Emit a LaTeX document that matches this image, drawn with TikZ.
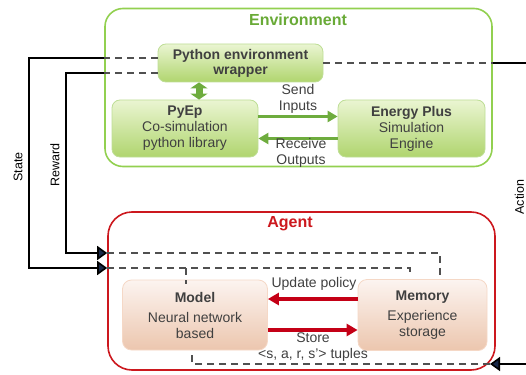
\documentclass[tikz,border=0pt]{standalone}
\usepackage{fontspec}
\setmainfont{Liberation Sans}
\usetikzlibrary{arrows.meta, positioning, calc}
\definecolor{envgreen}{RGB}{146, 208, 80}
\definecolor{envtitle}{RGB}{105, 170, 55}
\definecolor{greentop}{RGB}{234, 245, 210}
\definecolor{greenbot}{RGB}{176, 213, 110}
\definecolor{greenline}{RGB}{190, 222, 150}
\definecolor{greenarrow}{RGB}{110, 172, 62}
\definecolor{agentred}{RGB}{204, 24, 30}
\definecolor{peachtop}{RGB}{252, 244, 240}
\definecolor{peachbot}{RGB}{236, 198, 174}
\definecolor{peachline}{RGB}{245, 216, 198}
\definecolor{redarrow}{RGB}{196, 0, 22}
\definecolor{tipnavy}{RGB}{24, 40, 72}
\definecolor{dashgray}{RGB}{80, 80, 80}
\definecolor{txtgray}{RGB}{64, 64, 64}

\begin{document}
\begin{tikzpicture}[
    x=1pt, y=-1pt,
    font=\fontsize{14}{16}\selectfont,
    frame/.style={line width=1.6pt, minimum width=387pt, minimum height=158pt},
    titletext/.style={font=\fontsize{16}{18}\selectfont\bfseries},
    greenbox/.style={draw=greenline, line width=0.8pt, rounded corners=8pt,
        top color=greentop, bottom color=greenbot, align=center, text=txtgray},
    peachbox/.style={draw=peachline, line width=0.8pt, rounded corners=9pt,
        top color=peachtop, bottom color=peachbot, align=center, text=txtgray},
    lbl/.style={text=txtgray, align=center},
    sidelbl/.style={font=\fontsize{12.5}{14}\selectfont, text=black, rotate=90, inner sep=0pt},
    dashline/.style={draw=dashgray, line width=1.3pt, dash pattern=on 7pt off 5pt},
    wire/.style={draw=black, line width=1.6pt},
    navytip/.style={-{Triangle[length=10pt, width=14pt, fill=tipnavy]}},
    garrow/.style={draw=greenarrow, line width=3pt, -{Triangle[length=10pt, width=11pt]}},
    rarrow/.style={draw=redarrow, line width=3.2pt, -{Triangle[length=11pt, width=12pt]}}
]
    \useasboundingbox (0,0) rectangle (526,374);

    % ==========================================
    % FRAMES
    % ==========================================
    \node[frame, draw=envgreen, rounded corners=18pt] (env) at (298.5,87.5) {};
    \node[titletext, text=envtitle] (envname) at (298,20) {Environment};

    \node[frame, draw=agentred, rounded corners=24pt] (agent) at (301.5,291) {};
    \node[titletext, text=agentred] (agentname) at (290,224) {Agent};

    % ==========================================
    % ENVIRONMENT BOXES
    % ==========================================
    \node[greenbox, minimum width=165pt, minimum height=38pt, font=\fontsize{14}{15}\selectfont\bfseries]
        (wrapper) at (240.5,63) {Python environment\\wrapper};
    \node[greenbox, minimum width=146pt, minimum height=57pt]
        (pyep) at (185,128.5) {\textbf{PyEp}\\Co-simulation\\python library};
    \node[greenbox, minimum width=147pt, minimum height=57pt]
        (eplus) at (411.5,128.5) {\textbf{Energy Plus}\\Simulation\\Engine};

    % ==========================================
    % AGENT BOXES
    % ==========================================
    \node[peachbox, minimum width=145pt, minimum height=70pt]
        (model) at (195,315) {\textbf{Model}\\[4pt]Neural network\\based};
    \node[peachbox, minimum width=129pt, minimum height=71pt]
        (memory) at (422.5,315) {\textbf{Memory}\\[4pt]Experience\\storage};

    % ==========================================
    % COORDINATES
    % ==========================================
    % State (left, outer)
    \coordinate (st_out) at ([yshift=5pt]wrapper.west);
    \coordinate (st_env) at (env.west |- st_out);
    \coordinate (st_top) at (29,58);
    \coordinate (st_bot) at (29,268);
    \coordinate (st_in)  at (agent.west |- st_bot);
    \coordinate (st_end) at (410,268);
    \coordinate (st_tick) at ([xshift=-9pt, yshift=-4pt]model.north);

    % Reward (left, inner)
    \coordinate (rw_out) at ([yshift=-10pt]wrapper.west);
    \coordinate (rw_env) at (env.west |- rw_out);
    \coordinate (rw_top) at (66,73);
    \coordinate (rw_bot) at (66,253);
    \coordinate (rw_in)  at (agent.west |- rw_bot);
    \coordinate (mem_top) at ([xshift=17.5pt]memory.north);

    % Action (right)
    \coordinate (act_env) at (env.east |- wrapper.east);
    \coordinate (act_top) at (540,63);
    \coordinate (act_bot) at (540,364);
    \coordinate (act_in)  at (490,364);
    \coordinate (mod_bot) at ([xshift=-3pt]model.south);

    % ==========================================
    % STATE / REWARD / ACTION LINES
    % ==========================================
    \draw[dashline] (st_out) -- (st_env);
    \draw[wire, navytip] (st_env) -- (st_top) -- (st_bot) -- (st_in);
    \draw[dashline] (st_in) -- (st_end) -- ++(0,5);
    \draw[dashline] (st_tick |- st_in) -- (st_tick);

    \draw[dashline] (rw_out) -- (rw_env);
    \draw[wire, navytip] (rw_env) -- (rw_top) -- (rw_bot) -- (rw_in);
    \draw[dashline] (rw_in) -- (rw_in -| mem_top) -- (mem_top);

    \draw[dashline] (wrapper.east) -- (act_env);
    \draw[wire, navytip] (act_env) -- (act_top) -- (act_bot) -- (act_in);
    \draw[dashline] (act_in) -- (act_in -| mod_bot) -- (mod_bot);

    \node[sidelbl] (statelbl) at (18,167) {State};
    \node[sidelbl] (rewardlbl) at (55,165) {Reward};
    \node[sidelbl] (actionlbl) at (519.5,197) {Action};

    % ==========================================
    % ENVIRONMENT ARROWS
    % ==========================================
    \draw[draw=greenarrow, line width=7pt,
        {Triangle[length=6pt, width=17pt]}-{Triangle[length=6pt, width=17pt]}]
        ([xshift=-41.5pt]wrapper.south) -- ([xshift=14pt]pyep.north);

    \draw[garrow] ([yshift=12pt]pyep.east) -- ([yshift=12pt]eplus.west);
    \draw[garrow] ([yshift=-10pt]eplus.west) -- ([yshift=-10pt]pyep.east);
    \node[lbl] (sendlbl) at (298,99) {Send\\Inputs};
    \node[lbl] (recvlbl) at (301,153) {Receive\\Outputs};

    % ==========================================
    % AGENT ARROWS
    % ==========================================
    \draw[rarrow] ([yshift=16pt]memory.west) -- ([yshift=16pt]model.east);
    \draw[rarrow] ([yshift=-15pt]model.east) -- ([yshift=-15pt]memory.west);
    \node[lbl] (updlbl) at (314,284) {Update policy};
    \node[lbl] (storelbl) at (313,347.5) {Store\\<s, a, r, s'> tuples};

\end{tikzpicture}
\end{document}
